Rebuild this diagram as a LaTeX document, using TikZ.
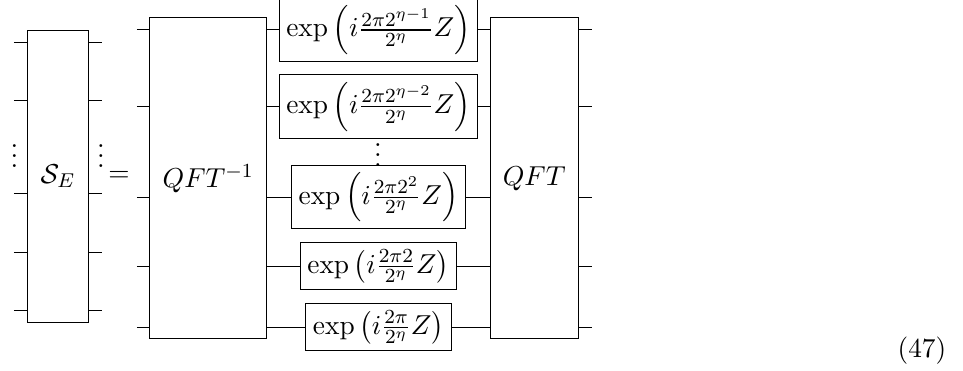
\documentclass[tikz,border=0pt,11pt]{standalone}
\usepackage{amsmath,amssymb}
\tikzset{
  gatebox/.style={draw,line width=0.4pt,inner sep=0pt,outer sep=0pt},
  wire/.style={line width=0.4pt},
  plainlabel/.style={inner sep=0pt,outer sep=0pt}
}
\begin{document}
\begin{tikzpicture}[x=0.4pt,y=-0.4pt]
\useasboundingbox (0,0) rectangle (963,371);
% boxes
\node[gatebox,minimum width=24.4pt,minimum height=116.8pt] (se) at (58,176.5) {\raisebox{-1.2pt}{$\mathcal{S}_E$}};
\node[gatebox,minimum width=46.6pt,minimum height=128.4pt] (qi) at (208.25,178.5) {$QFT^{-1}$};
\node[gatebox,minimum width=35pt,minimum height=128.4pt] (qf) at (534.25,178.5) {$QFT$};
\node[gatebox,minimum width=79.2pt,minimum height=25.2pt] (e1) at (378.5,30) {$\exp\left(i\frac{2\pi 2^{\eta-1}}{2^\eta}Z\right)$};
\node[gatebox,minimum width=79.2pt,minimum height=25.4pt] (e2) at (378.5,106.75) {$\exp\left(i\frac{2\pi 2^{\eta-2}}{2^\eta}Z\right)$};
\node[gatebox,minimum width=69.2pt,minimum height=25.4pt] (e3) at (378.5,197.25) {$\exp\left(i\frac{2\pi 2^{2}}{2^\eta}Z\right)$};
\node[gatebox,minimum width=62.2pt,minimum height=19pt] (e4) at (378.25,266.25) {$\exp\left(i\frac{2\pi 2}{2^\eta}Z\right)$};
\node[gatebox,minimum width=58pt,minimum height=19pt] (e5) at (378.5,327.25) {$\exp\left(i\frac{2\pi}{2^\eta}Z\right)$};
% wire ends
\foreach \n/\y in {1/42.5,2/100.5,3/193.5,4/252.5,5/310.5}{
  \coordinate (sl\n) at (14,\y);
  \coordinate (sr\n) at (102,\y);
  \draw[wire] (sl\n) -- (sl\n -| se.west);
  \draw[wire] (sr\n) -- (sr\n -| se.east);
}
\foreach \n/\y in {1/30,2/107,3/197.5,4/266.5,5/327.5}{
  \coordinate (ql\n) at (137,\y);
  \coordinate (qr\n) at (592,\y);
  \draw[wire] (ql\n) -- (ql\n -| qi.west);
  \draw[wire] (qr\n) -- (qr\n -| qf.east);
  \draw[wire] (ql\n -| qi.east) -- (ql\n -| e\n.west);
  \draw[wire] (ql\n -| e\n.east) -- (ql\n -| qf.west);
}
% dots and equals
\node[plainlabel] (d1) at (14.5,149) {$\vdots$};
\node[plainlabel] (d2) at (101,149) {$\vdots$};
\node[plainlabel] (d3) at (378,148) {$\vdots$};
\node[plainlabel] (eq) at (119,176) {$=$};
\node[plainlabel] (num) at (922,351) {(47)};
\end{tikzpicture}
\end{document}
